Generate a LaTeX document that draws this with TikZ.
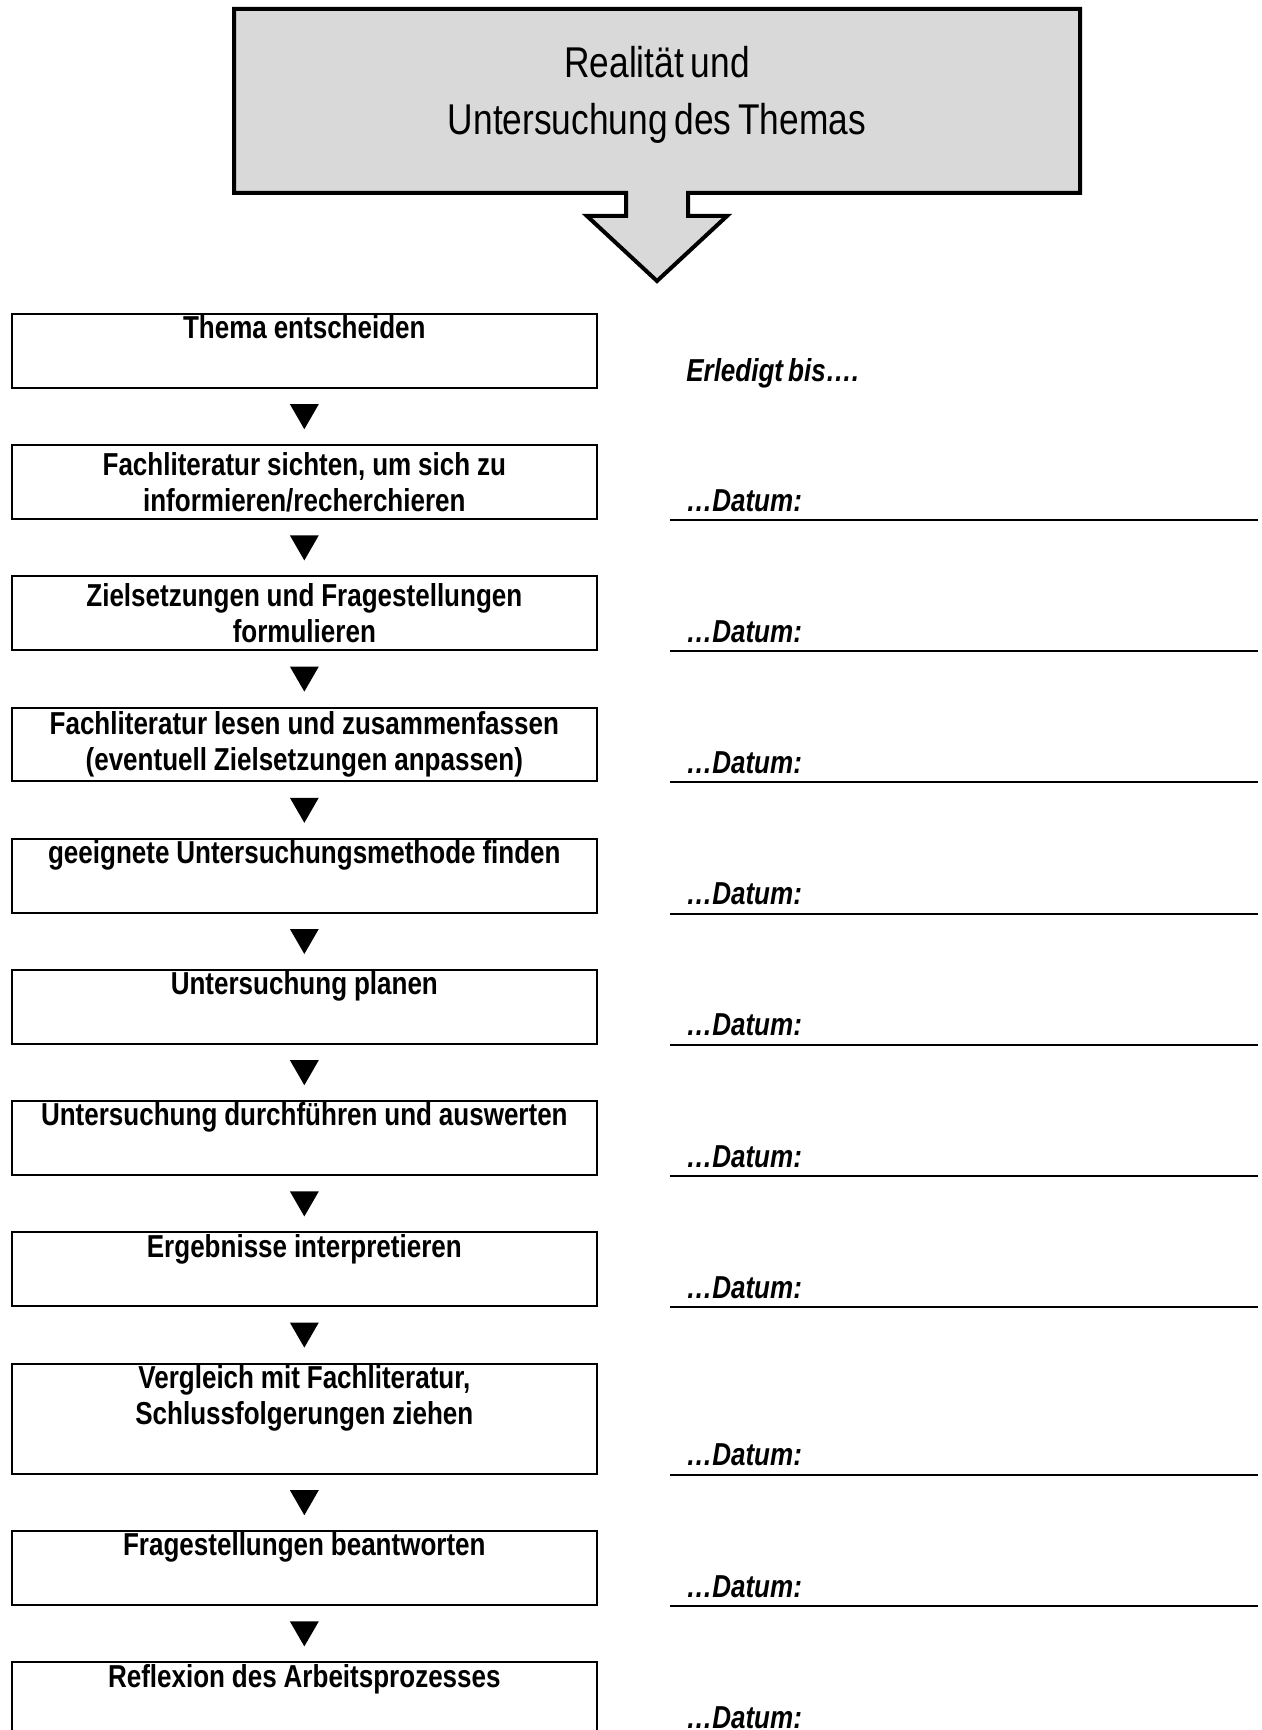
\documentclass[tikz,border=0pt]{standalone}
\usepackage{fontspec}
\setmainfont{Liberation Sans}[FakeStretch=0.82, WordSpace=0.7, BoldFeatures={WordSpace=0.95}]
\usetikzlibrary{positioning,calc,shapes.geometric}
\definecolor{calloutgray}{HTML}{D9D9D9}
\tikzset{
  stepbox/.style={draw, line width=1.5pt, minimum width=438.5pt, minimum height=55.4pt, align=center, inner sep=0pt, font=\fontsize{23.8}{27.3}\selectfont\bfseries},
  tallbox/.style={stepbox, minimum height=82.7pt},
  marker/.style={fill=black, regular polygon, regular polygon sides=3, shape border rotate=180, minimum size=25pt, inner sep=0pt, yshift=3pt},
  datum/.style={font=\fontsize{23.8}{27.3}\selectfont\bfseries\itshape, anchor=base west, inner sep=0pt},
  dateline/.style={line width=1.5pt},
  calloutshape/.style={draw, line width=3pt, fill=calloutgray, line join=miter}
}
\begin{document}
\begin{tikzpicture}[x=0.75pt, y=0.75pt, node distance=41.5pt]
  \useasboundingbox (0,0) rectangle (1262,-1730);
  \clip (0,0) rectangle (1262,-1730);
  \draw[calloutshape] (234,-9) -- (1080,-9) -- (1080,-193) -- (688,-193) -- (688,-216) -- (727,-216) -- (657,-281) -- (587,-216) -- (626,-216) -- (626,-193) -- (234,-193) -- cycle;
  \node[font=\fontsize{32.3}{42.8}\selectfont, align=center] (topic) at (657,-95) {Realität und\\Untersuchung des Themas};

  \node[stepbox, anchor=north west] (s1) at (11,-313) {Thema entscheiden\\\strut};
  \node[stepbox, below=of s1] (s2) {Fachliteratur sichten, um sich zu\\informieren/recherchieren};
  \node[stepbox, below=of s2] (s3) {Zielsetzungen und Fragestellungen\\formulieren};
  \node[stepbox, below=of s3] (s4) {Fachliteratur lesen und zusammenfassen\\(eventuell Zielsetzungen anpassen)};
  \node[stepbox, below=of s4] (s5) {geeignete Untersuchungsmethode finden\\\strut};
  \node[stepbox, below=of s5] (s6) {Untersuchung planen\\\strut};
  \node[stepbox, below=of s6] (s7) {Untersuchung durchführen und auswerten\\\strut};
  \node[stepbox, below=of s7] (s8) {Ergebnisse interpretieren\\\strut};
  \node[tallbox, below=of s8] (s9) {Vergleich mit Fachliteratur,\\Schlussfolgerungen ziehen\\\strut};
  \node[stepbox, below=of s9] (s10) {Fragestellungen beantworten\\\strut};
  \node[stepbox, below=of s10] (s11) {Reflexion des Arbeitsprozesses\\\strut};

  \node[marker] (m1) at ($(s1.south)!0.5!(s2.north)$) {};
  \node[marker] (m2) at ($(s2.south)!0.5!(s3.north)$) {};
  \node[marker] (m3) at ($(s3.south)!0.5!(s4.north)$) {};
  \node[marker] (m4) at ($(s4.south)!0.5!(s5.north)$) {};
  \node[marker] (m5) at ($(s5.south)!0.5!(s6.north)$) {};
  \node[marker] (m6) at ($(s6.south)!0.5!(s7.north)$) {};
  \node[marker] (m7) at ($(s7.south)!0.5!(s8.north)$) {};
  \node[marker] (m8) at ($(s8.south)!0.5!(s9.north)$) {};
  \node[marker] (m9) at ($(s9.south)!0.5!(s10.north)$) {};
  \node[marker] (m10) at ($(s10.south)!0.5!(s11.north)$) {};

  \coordinate (dl) at (670,0);
  \coordinate (dr) at (1258,0);
  \node[datum] (e1) at ($(dl |- s1.south)+(16,7)$) {Erledigt bis….};
  \draw[dateline] (dl |- s2.south) -- (dr |- s2.south);
  \node[datum] (d2) at ($(dl |- s2.south)+(16,9)$) {…Datum:};
  \draw[dateline] (dl |- s3.south) -- (dr |- s3.south);
  \node[datum] (d3) at ($(dl |- s3.south)+(16,9)$) {…Datum:};
  \draw[dateline] (dl |- s4.south) -- (dr |- s4.south);
  \node[datum] (d4) at ($(dl |- s4.south)+(16,9)$) {…Datum:};
  \draw[dateline] (dl |- s5.south) -- (dr |- s5.south);
  \node[datum] (d5) at ($(dl |- s5.south)+(16,9)$) {…Datum:};
  \draw[dateline] (dl |- s6.south) -- (dr |- s6.south);
  \node[datum] (d6) at ($(dl |- s6.south)+(16,9)$) {…Datum:};
  \draw[dateline] (dl |- s7.south) -- (dr |- s7.south);
  \node[datum] (d7) at ($(dl |- s7.south)+(16,9)$) {…Datum:};
  \draw[dateline] (dl |- s8.south) -- (dr |- s8.south);
  \node[datum] (d8) at ($(dl |- s8.south)+(16,9)$) {…Datum:};
  \draw[dateline] (dl |- s9.south) -- (dr |- s9.south);
  \node[datum] (d9) at ($(dl |- s9.south)+(16,9)$) {…Datum:};
  \draw[dateline] (dl |- s10.south) -- (dr |- s10.south);
  \node[datum] (d10) at ($(dl |- s10.south)+(16,9)$) {…Datum:};
  \draw[dateline] (dl |- s11.south) -- (dr |- s11.south);
  \node[datum] (d11) at ($(dl |- s11.south)+(16,9)$) {…Datum:};
\end{tikzpicture}
\end{document}
